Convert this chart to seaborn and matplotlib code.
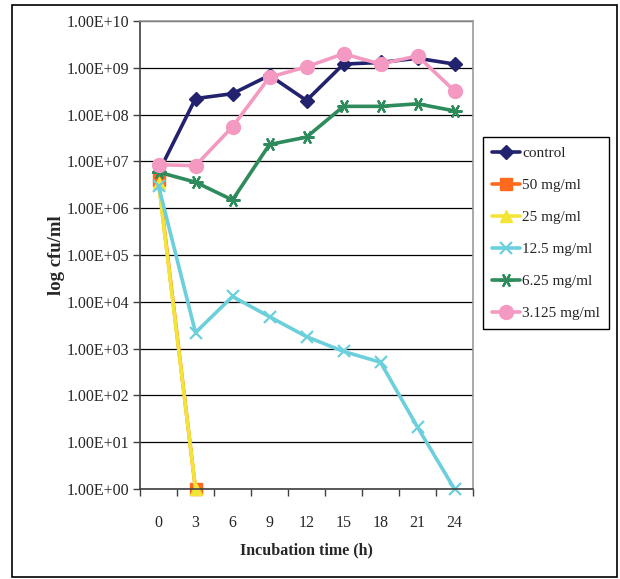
import numpy as np
import pandas as pd
import matplotlib
matplotlib.use("Agg")
import matplotlib.pyplot as plt
import matplotlib.patches as mpatches
from matplotlib.ticker import FixedLocator, FuncFormatter, NullLocator
import seaborn as sns

# ---- data (cfu/ml) ----
times = ["0", "3", "6", "9", "12", "15", "18", "21", "24"]
series_names = ["control", "50 mg/ml", "25 mg/ml", "12.5 mg/ml", "6.25 mg/ml", "3.125 mg/ml"]
control = [5.8e6, 2.2e8, 2.8e8, 6.9e8, 2.0e8, 1.2e9, 1.3e9, 1.6e9, 1.2e9]
mg50 = [4.0e6, 1.0]
mg25 = [3.5e6, 1.0]
mg12_5 = [3.0e6, 2.2e3, 1.3e4, 4.8e3, 1.8e3, 8.7e2, 5.1e2, 21.0, 1.0]
mg6_25 = [5.9e6, 3.6e6, 1.5e6, 2.3e7, 3.3e7, 1.5e8, 1.5e8, 1.7e8, 1.2e8]
mg3_125 = [8.5e6, 8.1e6, 5.5e7, 6.3e8, 1.05e9, 2.0e9, 1.2e9, 1.8e9, 3.2e8]
ytick_vals = [1e0, 1e1, 1e2, 1e3, 1e4, 1e5, 1e6, 1e7, 1e8, 1e9, 1e10]

colors = ["#22226E", "#FF6A1F", "#F2E537", "#6CCFDC", "#2E8B5C", "#F49AC2"]
markers = ["D", "s", "^", "x", (6, 2, 90), "o"]
msizes = [7, 8, 9, 9, 10, 10]

all_vals = [control, mg50, mg25, mg12_5, mg6_25, mg3_125]
rows = []
for name, vals in zip(series_names, all_vals):
    for i, v in enumerate(vals):
        rows.append({"pos": i, "cfu": v, "series": name})
df = pd.DataFrame(rows)

sns.set_style("white")
plt.rcParams["font.family"] = ["Liberation Serif", "DejaVu Serif"]

fig = plt.figure(figsize=(6.2, 5.79), dpi=100)
ax = fig.add_axes([140 / 620, 1 - 489 / 579, 333 / 620, 468 / 579])

sns.lineplot(data=df, x="pos", y="cfu", hue="series", style="series",
             hue_order=series_names, style_order=series_names,
             palette=dict(zip(series_names, colors)),
             markers=dict(zip(series_names, ["D", "s", "^", "X", "P", "o"])), dashes=False,
             linewidth=2.6, markersize=8, ax=ax, legend=True)

ax.set_yscale("log")
ax.set_ylim(1e0, 1e10)
ax.set_xlim(-0.5, 8.5)

# fix marker shapes / colours / sizes
def style_line(line, name):
    if name in series_names:
        k = series_names.index(name)
        line.set_marker(markers[k])
        line.set_color(colors[k])
        line.set_markerfacecolor(colors[k])
        line.set_markeredgecolor(colors[k])
        line.set_markersize(msizes[k])
        line.set_markeredgewidth(1.6 if (markers[k] == "x" or isinstance(markers[k], tuple)) else 1.0)
        line.set_linewidth(2.6)

for line, name in zip(ax.lines, series_names):
    style_line(line, name)
    line.set_clip_on(False)

handles, labels = ax.get_legend_handles_labels()
for h, l in zip(handles, labels):
    style_line(h, l)

ax.yaxis.set_major_locator(FixedLocator(ytick_vals))
ax.yaxis.set_minor_locator(NullLocator())
ax.yaxis.set_major_formatter(FuncFormatter(lambda v, p: f"{v:.2E}"))
ax.grid(True, axis="y", color="black", linewidth=0.9)
ax.grid(False, axis="x")

ax.set_xticks(range(len(times)))
ax.set_xticklabels(times)
ax.set_xticks(np.arange(-0.5, len(times), 1.0), minor=True)
ax.tick_params(axis="x", which="major", length=0, pad=19, labelsize=11.5)
ax.tick_params(axis="x", which="minor", length=5, width=1, color="#404040", direction="out", bottom=True)
ax.tick_params(axis="y", which="major", length=5, width=1, color="#404040", direction="out",
               pad=3, labelsize=11.5, left=True)

for s in ["left", "bottom"]:
    ax.spines[s].set_color("#404040")
    ax.spines[s].set_linewidth(1.2)
for s in ["top", "right"]:
    ax.spines[s].set_color("#9A9A9A")
    ax.spines[s].set_linewidth(1.2)

ax.set_xlabel("Incubation time (h)", fontsize=11.5, fontweight="bold")
ax.set_ylabel("log cfu/ml", fontsize=13.5, fontweight="bold")
ax.xaxis.set_label_coords(0.5, -0.115)
ax.yaxis.set_label_coords(-0.225, 0.5)

leg = ax.legend(handles, labels, loc="upper left",
                bbox_to_anchor=(483 / 620, 1 - 137 / 579), bbox_transform=fig.transFigure,
                borderaxespad=0, frameon=True, fancybox=False, edgecolor="black",
                fontsize=11, handlelength=1.8, handletextpad=0.15, borderpad=0.6,
                labelspacing=1.2, title=None)
leg.get_frame().set_linewidth(1.0)
leg.get_frame().set_alpha(1)

fig.patches.append(mpatches.Rectangle((12 / 620, 1 - 577 / 579), 605 / 620, 572 / 579,
                                      transform=fig.transFigure, fill=False,
                                      edgecolor="black", linewidth=1.2))

fig.savefig("out.png", dpi=100)
